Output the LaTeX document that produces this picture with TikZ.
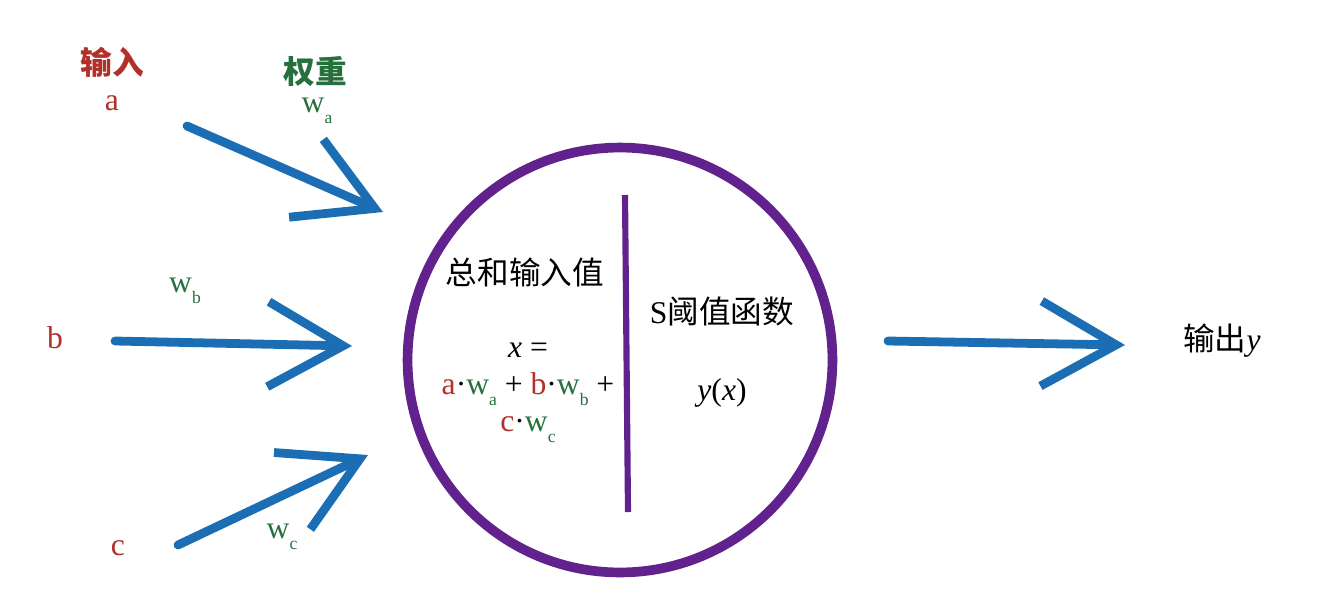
\documentclass[tikz,border=0pt]{standalone}
\usepackage{fontspec}
\setmainfont{Liberation Serif}
\newfontfamily\cjk{Noto Sans CJK SC}
\usetikzlibrary{arrows.meta}
\definecolor{inred}{RGB}{178,48,42}
\definecolor{wgreen}{RGB}{38,112,62}
\definecolor{chalkblue}{RGB}{28,110,180}
\definecolor{neurpurple}{RGB}{98,34,142}
\newcommand{\wsub}[1]{w\raisebox{-0.8ex}{\fontsize{10}{11}\selectfont #1}}
\newcommand{\rc}[1]{\textcolor{inred}{#1}}
\newcommand{\gc}[1]{\textcolor{wgreen}{#1}}

\begin{document}
\begin{tikzpicture}[x=0.02cm, y=-0.02cm, font=\fontsize{18}{21}\selectfont]
\tikzstyle{inlabel} = [text=inred, inner sep=1pt]
\tikzstyle{wlabel} = [text=wgreen, inner sep=1pt]
\tikzstyle{plain} = [text=black, inner sep=1pt, align=center]
\tikzstyle{arrow} = [chalkblue, line width=5pt, line cap=round, -{Straight Barb[length=1.5cm, width=1.7cm, line width=5pt]}]

\useasboundingbox (0,0) rectangle (1342,606);

% inputs and weights
\node (inhead) [inlabel] at (112,62) {\cjk\bfseries 输入};
\node (ina) [inlabel] at (112,103) {a};
\node (whead) [wlabel] at (315,72) {\cjk\bfseries 权重};
\node (wa) [wlabel] at (317,111) {\wsub{a}};
\node (inb) [inlabel] at (55,338) {b};
\node (wb) [wlabel] at (185,291) {\wsub{b}};
\node (inc) [inlabel] at (118,548) {c};
\node (wc) [wlabel] at (282,537) {\wsub{c}};

% neuron
\node (neuron) [circle, draw=neurpurple, line width=5.5pt, minimum size=8.5cm] at (620,360) {};
\coordinate (divtop) at (625,195);
\coordinate (divbot) at (628,512);
\draw [neurpurple, line width=3.5pt] (divtop) -- (divbot);

\node (sumhead) [plain] at (525,272) {\cjk 总和输入值};
\node (sumf) [plain] at (528,393) {\textit{x} =\\
  \rc{a}·\gc{\wsub{a}} + \rc{b}·\gc{\wsub{b}} +\\
  \rc{c}·\gc{\wsub{c}}};
\node (acthead) [plain] at (722,312) {S{\cjk 阈值函数}};
\node (actf) [plain] at (722,393) {\textit{y}(\textit{x})};

\node (out) [plain] at (1222,341) {{\cjk 输出}\textit{y}};

% connectors
\coordinate (atail) at (187,126);
\coordinate (ahead) at (383,212);
\coordinate (btail) at (115,341);
\coordinate (bhead) at (352,346);
\coordinate (ctail) at (178,545);
\coordinate (chead) at (368,455);
\coordinate (otail) at (888,341);
\coordinate (ohead) at (1125,345);

\draw [arrow] (atail) -- (ahead);
\draw [arrow] (btail) -- (bhead);
\draw [arrow] (ctail) -- (chead);
\draw [arrow] (otail) -- (ohead);
\end{tikzpicture}
\end{document}
